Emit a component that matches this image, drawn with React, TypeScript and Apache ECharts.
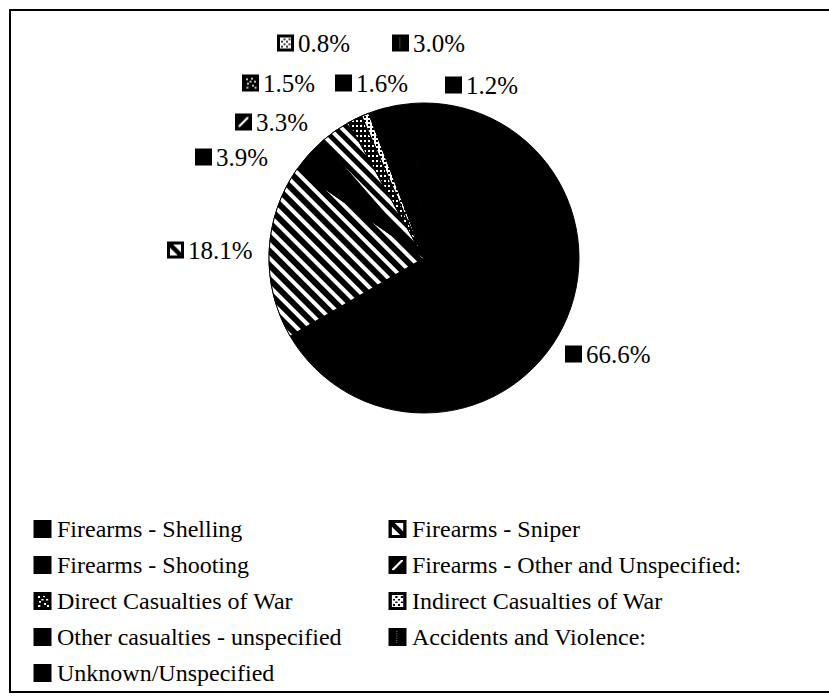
import React, { useEffect, useRef } from "react";
import * as echarts from "echarts";

const categories = [
  "Firearms - Shelling",
  "Firearms - Sniper",
  "Firearms - Shooting",
  "Firearms - Other and Unspecified:",
  "Direct Casualties of War",
  "Indirect Casualties of War",
  "Other casualties - unspecified",
  "Accidents and Violence:",
  "Unknown/Unspecified",
];
const values = [66.6, 18.1, 3.9, 3.3, 1.5, 0.8, 1.6, 3.0, 1.2];
const iconKinds = ["solid", "sniper", "solid", "otherFire", "direct", "indirect", "solid", "accidents", "solid"];
const leftLegend = [0, 2, 4, 6, 8];
const rightLegend = [1, 3, 5, 7];
// label anchor points (left edge of icon, vertical middle)
const labelPos: [number, number][] = [
  [565, 354],
  [167, 250],
  [195, 157],
  [235, 122],
  [242, 83],
  [277, 43],
  [335, 83],
  [392, 43],
  [445, 85],
];

const FONT = "'Liberation Serif', 'Times New Roman', serif";

function makeIcon(kind: string): string {
  const s = 34;
  const c = document.createElement("canvas");
  c.width = s;
  c.height = s;
  const g = c.getContext("2d")!;
  g.fillStyle = "#fff";
  g.fillRect(0, 0, s, s);
  g.fillStyle = "#000";
  g.strokeStyle = "#000";
  if (kind === "solid") {
    g.fillRect(0, 0, s, s);
  } else if (kind === "sniper") {
    g.lineWidth = 9;
    g.beginPath();
    g.moveTo(0, 0);
    g.lineTo(s, s);
    g.stroke();
    g.lineWidth = 6;
    g.strokeRect(3, 3, s - 6, s - 6);
  } else if (kind === "otherFire") {
    g.fillRect(0, 0, s, s);
    g.fillStyle = "#fff";
    g.beginPath();
    g.moveTo(7, 24);
    g.lineTo(24, 7);
    g.lineTo(27, 7);
    g.lineTo(27, 10);
    g.lineTo(10, 27);
    g.lineTo(7, 27);
    g.closePath();
    g.fill();
  } else if (kind === "direct") {
    g.fillRect(0, 0, s, s);
    g.fillStyle = "#fff";
    const pts = [[8, 8], [18, 7], [24, 13], [10, 17], [20, 21], [9, 25], [25, 25], [15, 13]];
    pts.forEach(([x, y]) => g.fillRect(x, y, 4, 3));
  } else if (kind === "indirect") {
    g.lineWidth = 6;
    g.strokeRect(3, 3, s - 6, s - 6);
    for (let y = 8; y < 27; y += 5) {
      for (let x = 8; x < 27; x += 5) {
        if (((x + y) / 5) % 2 < 1) g.fillRect(x, y, 4, 3);
      }
    }
  } else if (kind === "accidents") {
    g.fillRect(0, 0, s, s);
    g.fillStyle = "#555";
    for (let y = 6; y < 28; y += 4) g.fillRect(14, y, 3, 2);
  }
  return c.toDataURL("image/png");
}

const decals: any[] = [
  null,
  { color: "#fff", dashArrayX: [1, 0], dashArrayY: [4, 6], rotation: Math.PI / 4 },
  null,
  { color: "#fff", dashArrayX: [1, 0], dashArrayY: [4, 5], rotation: Math.PI / 4 },
  { color: "#fff", symbol: "rect", dashArrayX: [2, 2], dashArrayY: [2, 3], symbolSize: 1 },
  { color: "#000", symbol: "rect", dashArrayX: [2, 2], dashArrayY: [2, 2], symbolSize: 1 },
  null,
  null,
  null,
];
const baseColors = ["#000", "#000", "#000", "#000", "#000", "#fff", "#000", "#000", "#000"];

export default function App() {
  const ref = useRef<HTMLDivElement>(null);
  useEffect(() => {
    if (!ref.current) return;
    const chart = echarts.init(ref.current, undefined, { renderer: "svg" });
    const icons = iconKinds.map(makeIcon);
    const rich: any = {
      t: { fontFamily: FONT, fontSize: 25, color: "#000", padding: [0, 0, 0, 4] },
    };
    icons.forEach((u, i) => {
      rich["i" + i] = { width: 17, height: 17, backgroundColor: { image: u } };
    });
    const legendBase = {
      orient: "vertical",
      top: 512,
      itemWidth: 19,
      itemHeight: 18,
      itemGap: 12,
      selectedMode: false,
      textStyle: { fontFamily: FONT, fontSize: 24, color: "#000" },
    };
    chart.setOption({
      animation: false,
      backgroundColor: "#fff",
      graphic: [
        {
          type: "rect",
          shape: { x: 10, y: 10, width: 840, height: 682 },
          style: { fill: "none", stroke: "#000", lineWidth: 2 },
          silent: true,
        },
      ],
      legend: [
        {
          ...legendBase,
          left: 28,
          data: leftLegend.map((i) => ({ name: categories[i], icon: "image://" + icons[i] })),
        },
        {
          ...legendBase,
          left: 383,
          data: rightLegend.map((i) => ({ name: categories[i], icon: "image://" + icons[i] })),
        },
      ],
      series: [
        {
          type: "pie",
          center: [424, 258],
          radius: 155,
          startAngle: 90,
          clockwise: true,
          avoidLabelOverlap: false,
          data: categories.map((name, i) => ({
            name,
            value: values[i],
            itemStyle: {
              color: baseColors[i],
              borderColor: "#000",
              borderWidth: 1,
              decal: decals[i] || undefined,
            },
          })),
          label: {
            show: true,
            position: "outside",
            formatter: (p: any) => `{i${p.dataIndex}|}{t|${Number(p.value).toFixed(1)}%}`,
            rich,
          },
          labelLine: { show: false },
          labelLayout: (p: any) => ({
            x: labelPos[p.dataIndex][0],
            y: labelPos[p.dataIndex][1],
            align: "left",
            verticalAlign: "middle",
          }),
          emphasis: { disabled: true },
        },
      ],
    });
    return () => chart.dispose();
  }, []);
  return (
    <div
      ref={ref}
      style={{ position: "fixed", left: 0, top: 0, width: 829, height: 699, background: "#fff" }}
    />
  );
}
